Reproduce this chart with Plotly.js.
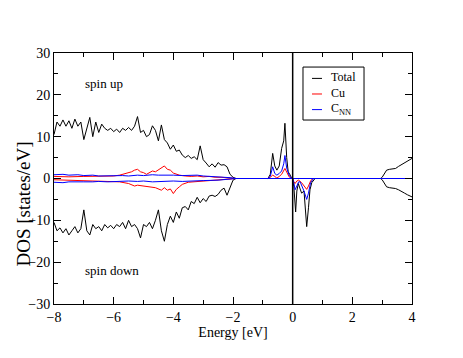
<!DOCTYPE html>
<html>
<head>
<meta charset="utf-8">
<script src="https://cdn.plot.ly/plotly-3.0.1.min.js"></script>
<style>html,body{margin:0;padding:0;background:#fff;}#chart{width:463px;height:358px;}</style>
</head>
<body>
<div id="chart"></div>
<script>
// ---- Data (energies in eV, DOS in states/eV) ----
const totalUpX = [-8.0,-7.9,-7.8,-7.7,-7.6,-7.5,-7.4,-7.3,-7.2,-7.1,-7.0,-6.9,-6.8,-6.7,-6.6,-6.5,-6.4,-6.3,-6.2,-6.1,-6.0,-5.9,-5.8,-5.7,-5.6,-5.5,-5.4,-5.3,-5.2,-5.1,-5.0,-4.9,-4.8,-4.7,-4.6,-4.5,-4.4,-4.3,-4.2,-4.1,-4.0,-3.9,-3.8,-3.7,-3.6,-3.5,-3.4,-3.3,-3.2,-3.1,-3.0,-2.9,-2.8,-2.7,-2.6,-2.5,-2.4,-2.3,-2.2,-2.1,-2.0,-1.9,-1.0,-0.83,-0.75,-0.67,-0.6,-0.53,-0.45,-0.37,-0.3,-0.26,-0.2,-0.15,-0.08,-0.03,0.0,1.0,2.0,2.95,3.0,3.1,3.15,3.25,3.35,3.45,3.55,3.65,3.75,3.85,3.95,4.0];
const totalUpY = [10.5,13.5,12.5,14,12.5,13.8,12,14.2,12.5,13.5,9.3,12,14.6,10,13.5,11,13,12,11.5,12,11.2,11.8,11,12,11.5,12.2,11.5,12.5,14.8,11,11.5,10,10.5,12.6,11.5,9,12.8,9.3,8.5,7,8,6.5,6.8,5.6,5,5.5,4.8,5.2,4.5,7.8,4.5,3.7,2.8,3.5,2.7,3.8,3.2,3.3,2.8,1.0,0.3,0,0,0,1.0,6.0,3.0,2.0,3.0,7.2,9.0,13.2,5.0,1.6,0.8,0,0,0,0,0,0.3,1.5,2.0,2.2,2.3,2.4,2.9,3.3,3.7,4.0,4.6,4.8];

const totalDnX = [-8.0,-7.9,-7.8,-7.7,-7.6,-7.5,-7.4,-7.3,-7.2,-7.1,-7.0,-6.9,-6.8,-6.7,-6.6,-6.5,-6.4,-6.3,-6.2,-6.1,-6.0,-5.9,-5.8,-5.7,-5.6,-5.5,-5.4,-5.3,-5.2,-5.1,-5.0,-4.9,-4.8,-4.7,-4.6,-4.5,-4.4,-4.3,-4.2,-4.1,-4.0,-3.9,-3.8,-3.7,-3.6,-3.5,-3.4,-3.3,-3.2,-3.1,-3.0,-2.9,-2.8,-2.7,-2.6,-2.5,-2.4,-2.3,-2.2,-2.1,-2.0,-1.9,-1.0,0.0,0.04,0.1,0.14,0.19,0.25,0.3,0.38,0.47,0.53,0.58,0.64,0.69,0.75,1.0,2.0,2.95,3.0,3.1,3.15,3.25,3.35,3.45,3.55,3.65,3.75,3.85,3.95,4.0];
const totalDnY = [-10.5,-12.5,-11.8,-13,-12,-13.5,-12.5,-11.5,-13,-12,-7.5,-12.5,-13.5,-11,-12,-11.5,-12.5,-11,-11.8,-11.2,-12,-11,-11.5,-10.5,-12,-10,-11.5,-11,-12,-14.2,-11,-11.5,-10.5,-12,-10,-7.5,-12.5,-15,-11,-9,-10.5,-8,-9.5,-7,-6.7,-7.5,-5.5,-6,-4.5,-5.8,-4.8,-5.5,-4.2,-4,-4.3,-3.8,-2.8,-2.3,-4,-2,-0.4,0,0,0,-2,-8,-3,-1.2,-2.5,-3.5,-3,-11.5,-7,-2.7,-1,-0.4,0,0,0,0,-0.3,-1.5,-2.0,-2.2,-2.3,-2.4,-2.7,-3.2,-3.5,-3.9,-4.2,-4.4];

const cuUpX = [-8.0,-7.5,-7.0,-6.5,-6.0,-5.8,-5.6,-5.5,-5.4,-5.3,-5.2,-5.1,-5.0,-4.9,-4.8,-4.7,-4.6,-4.5,-4.4,-4.3,-4.2,-4.1,-4.0,-3.9,-3.8,-3.6,-3.4,-3.2,-3.0,-2.8,-2.6,-2.4,-2.2,-2.0,-1.9,-1.0,-0.83,-0.75,-0.67,-0.6,-0.53,-0.45,-0.37,-0.26,-0.2,-0.12,-0.03,1.0,4.0];
const cuUpY = [0.5,0.4,0.5,0.5,0.6,0.8,1.2,1.5,1.6,2.0,2.2,1.6,1.4,1.0,1.5,1.8,1.6,2.0,2.4,3.0,2.2,2.0,1.3,1.0,0.8,0.6,0.5,0.6,0.4,0.5,0.3,0.3,0.2,0.1,0,0,0,0.3,0.8,0.5,0.1,0.5,1.0,2.4,1.5,0.4,0,0,0];

const cuDnX = [-8.0,-7.5,-7.0,-6.5,-6.0,-5.8,-5.5,-5.3,-5.2,-5.0,-4.8,-4.6,-4.4,-4.3,-4.2,-4.1,-4.0,-3.9,-3.8,-3.7,-3.5,-3.2,-3.0,-2.8,-2.5,-2.2,-1.9,-1.0,0.0,0.04,0.08,0.14,0.2,0.3,0.38,0.47,0.53,0.6,0.66,0.7,1.0,4.0];
const cuDnY = [-0.3,-0.4,-0.4,-0.5,-0.6,-0.8,-1.2,-1.8,-1.6,-1.8,-2.0,-2.2,-2.8,-2.2,-2.8,-2.5,-3.6,-2.6,-2.0,-1.4,-0.9,-0.7,-0.6,-0.5,-0.4,-0.2,0,0,0,-0.8,-1.2,-0.6,-0.4,-1.0,-1.8,-2.6,-1.8,-0.6,-0.1,0,0,0];

const cnnUpX = [-8.0,-7.7,-7.5,-7.2,-7.0,-6.7,-6.5,-6.2,-6.0,-5.7,-5.5,-5.2,-5.0,-4.7,-4.5,-4.2,-4.0,-3.7,-3.5,-3.2,-3.0,-2.7,-2.4,-2.1,-1.9,-1.0,-0.83,-0.75,-0.67,-0.6,-0.53,-0.45,-0.37,-0.3,-0.26,-0.2,-0.12,-0.03,1.0,4.0];
const cnnUpY = [0.9,1.0,0.8,0.9,0.7,0.8,0.6,0.7,0.6,0.7,0.6,0.8,0.7,0.9,0.8,0.9,0.8,0.7,0.7,0.8,0.6,0.5,0.4,0.2,0,0,0,0.5,2.8,1.2,0.8,1.2,1.8,3.5,5.5,2.5,0.8,0,0,0];

const cnnDnX = [-8.0,-7.7,-7.5,-7.2,-7.0,-6.7,-6.5,-6.2,-6.0,-5.7,-5.5,-5.2,-5.0,-4.7,-4.5,-4.2,-4.0,-3.7,-3.5,-3.2,-3.0,-2.5,-2.2,-1.9,-1.0,0.0,0.04,0.08,0.14,0.2,0.25,0.3,0.38,0.47,0.53,0.6,0.66,0.7,1.0,4.0];
const cnnDnY = [-0.9,-1.0,-0.8,-0.9,-0.8,-0.8,-0.7,-0.8,-0.7,-0.7,-0.6,-0.7,-0.6,-0.8,-0.7,-0.7,-0.6,-0.7,-0.6,-0.6,-0.5,-0.4,-0.2,0,0,0,-1.0,-2.7,-1.8,-0.8,-0.8,-1.5,-3.0,-5.0,-3.5,-1.0,-0.2,0,0,0];

const seriesNames = ['Total', 'Cu', 'C<sub>NN</sub>'];
const seriesColors = ['#000000', '#ff0000', '#0000ff'];
const labels = ['spin up', 'spin down'];
const fermiEnergy = 0;

const serif = '"Liberation Serif", "Times New Roman", serif';

function mk(x, y, i) {
  return {x: x, y: y, type: 'scatter', mode: 'lines', name: seriesNames[i],
    showlegend: false, line: {color: seriesColors[i], width: 1}, hoverinfo: 'skip'};
}

const traces = [
  mk(totalUpX, totalUpY, 0),
  mk(totalDnX, totalDnY, 0),
  mk(cuUpX, cuUpY, 1),
  mk(cuDnX, cuDnY, 1),
  mk(cnnUpX, cnnUpY, 2),
  mk(cnnDnX, cnnDnY, 2)
];

const axisCommon = {
  showgrid: false, zeroline: false, showline: true, linecolor: '#000', linewidth: 1,
  mirror: 'ticks', ticks: 'inside', ticklen: 7, tickwidth: 1, tickcolor: '#000',
  tickfont: {family: serif, size: 14, color: '#000'}
};

// legend box geometry (paper units); rows follow the 1.3em line spacing of a 12px text block
const lgX0 = 0.6955, lgX1 = 0.866, lgY0 = 0.733, lgY1 = 0.944;
const lgRows = [0.8988, 0.8367, 0.7745];

const shapes = [
  {type: 'line', xref: 'x', yref: 'paper', x0: fermiEnergy, x1: fermiEnergy, y0: 0, y1: 1,
   line: {color: '#000', width: 1.5}},
  {type: 'rect', xref: 'paper', yref: 'paper', x0: lgX0, x1: lgX1, y0: lgY0, y1: lgY1,
   fillcolor: '#fff', line: {color: '#000', width: 1}, layer: 'above'}
];
seriesNames.forEach(function (nm, i) {
  shapes.push({type: 'line', xref: 'paper', yref: 'paper', x0: 0.7207, x1: 0.7486, y0: lgRows[i], y1: lgRows[i],
    line: {color: seriesColors[i], width: 1}, layer: 'above'});
});

const annotations = [
  {text: labels[0], x: -7.03, y: 22.8, xref: 'x', yref: 'y', xanchor: 'left', yanchor: 'middle', showarrow: false, font: {family: serif, size: 13, color: '#000'}},
  {text: labels[1], x: -7.03, y: -22.0, xref: 'x', yref: 'y', xanchor: 'left', yanchor: 'middle', showarrow: false, font: {family: serif, size: 13, color: '#000'}},
  {text: 'DOS [states/eV]', x: -0.084, y: 0.40, xref: 'paper', yref: 'paper', xanchor: 'center', yanchor: 'middle', textangle: -90, showarrow: false, font: {family: serif, size: 19, color: '#000'}},
  {text: seriesNames.join('<br>'), x: 0.771, y: lgRows[1], xref: 'paper', yref: 'paper', xanchor: 'left', yanchor: 'middle',
   align: 'left', showarrow: false, borderpad: 0, font: {family: serif, size: 12, color: '#000'}}
];

const layout = {
  width: 463, height: 358,
  margin: {l: 54, r: 51, t: 53, b: 54},
  paper_bgcolor: '#fff', plot_bgcolor: '#fff',
  showlegend: false,
  xaxis: Object.assign({}, axisCommon, {
    range: [-8, 4], dtick: 2, tick0: 0,
    minor: {ticks: 'inside', ticklen: 4, dtick: 1, tickcolor: '#000', tickwidth: 1, showgrid: false},
    title: {text: 'Energy [eV]', font: {family: serif, size: 14, color: '#000'}, standoff: 0}
  }),
  yaxis: Object.assign({}, axisCommon, {
    range: [-30, 30], dtick: 10, tick0: 0,
    minor: {ticks: 'inside', ticklen: 4, dtick: 5, tickcolor: '#000', tickwidth: 1, showgrid: false}
  }),
  shapes: shapes,
  annotations: annotations
};

Plotly.newPlot('chart', traces, layout, {staticPlot: true, displayModeBar: false});
</script>
</body>
</html>
